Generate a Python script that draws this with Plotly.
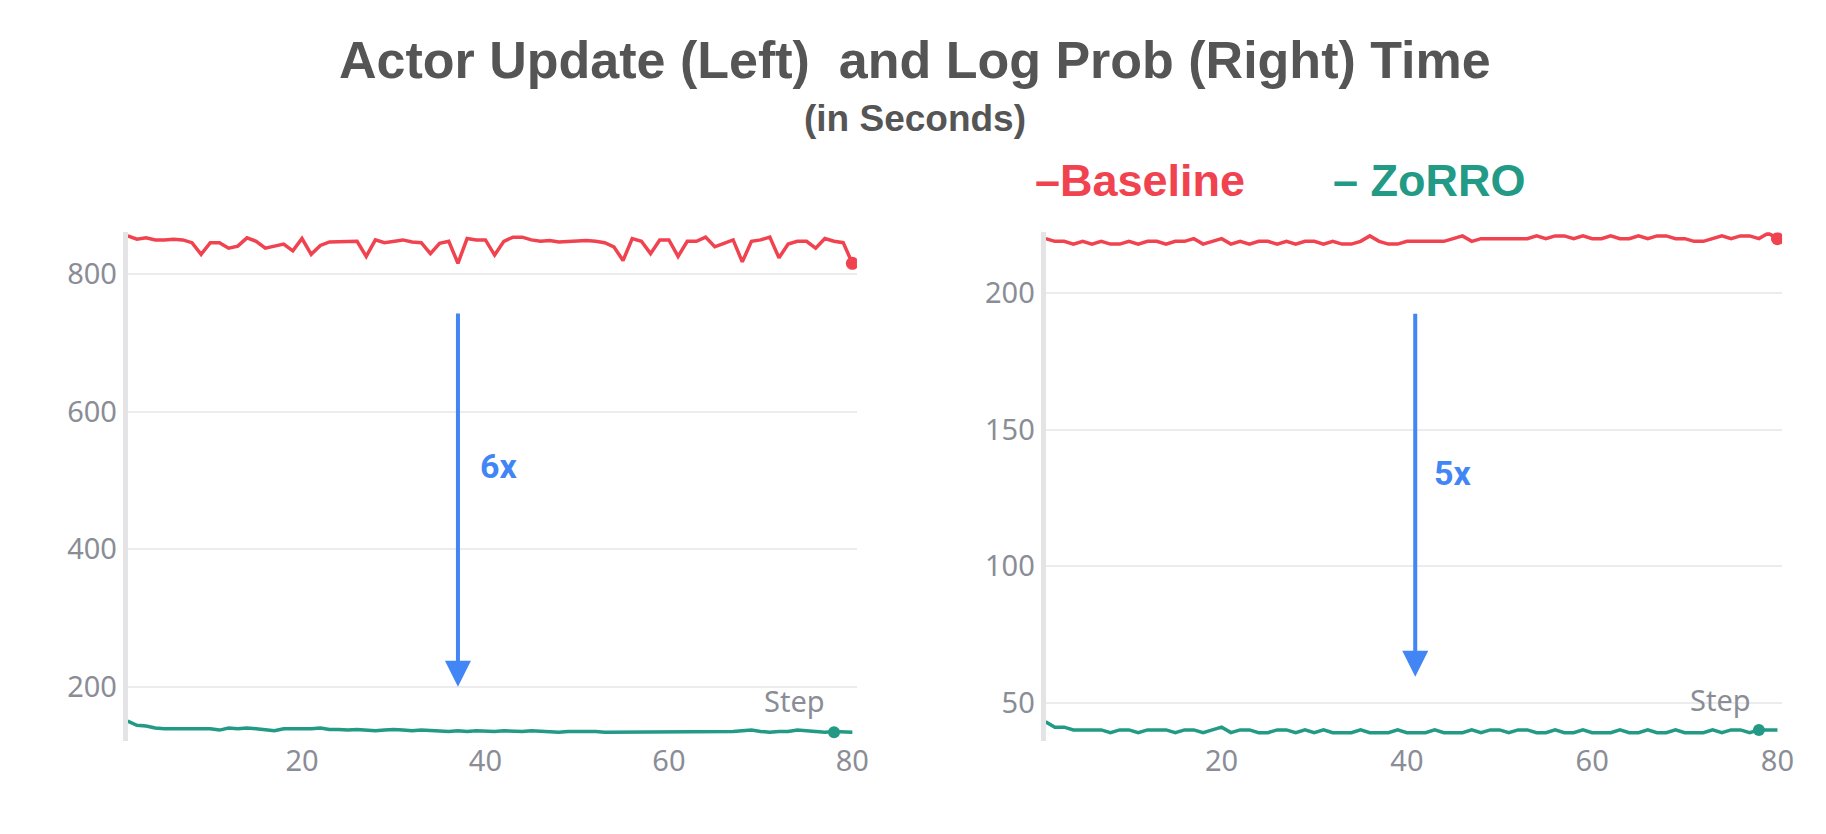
import plotly.graph_objects as go

steps = list(range(1, 81))
left_base = [856,851,853,850,850,851,850,846,829,846,846,838,841,853,848,838,841,844,834,852,829,842,847,847,847,848,826,850,846,848,850,847,846,830,845,848,816,852,850,850,828,848,854,854,850,848,849,847,848,848,849,848,846,840,820,852,848,830,850,850,826,848,848,854,840,845,850,818,848,850,854,824,844,848,848,838,852,848,846,816]
left_zorro = [150,144,143,140,139,139,138,139,138,139,137,140,139,140,139,137,136,139,139,138,139,140,138,138,137,138,137,136,137,138,137,136,137,136,136,135,136,135,136,135,135,136,135,135,136,135,135,134,135,135,136,135,134,134,135,134,134,134,134,135,134,134,134,135,134,134,135,136,137,135,134,135,135,137,136,135,134,135,134,134]
right_base = [220,219,219,218,219,218,219,218,218,219,218,219,219,218,219,219,220,218,219,220,218,219,218,219,219,218,219,218,219,219,218,219,218,218,219,221,219,218,218,219,219,219,219,219,220,221,219,220,220,220,220,220,220,221,220,221,221,220,221,220,220,221,220,220,221,220,221,221,220,220,219,219,220,221,220,221,221,220,222,220]
right_zorro = [43,41,41,40,40,40,40,39,40,40,39,40,40,40,39,40,40,39,40,41,39,40,40,39,39,40,40,39,40,39,40,39,39,39,40,39,39,39,40,39,39,39,40,39,39,39,40,39,40,40,39,40,40,39,39,40,39,39,40,39,39,39,40,39,39,40,39,39,40,39,39,39,40,39,40,40,39,40,40,40]

RED = "#f0424f"
TEAL = "#229a85"
BLUE = "#4285f4"
TICK = dict(family="Noto Sans", size=29, color="#8a8d96")

fig = go.Figure()
for xa, ya, b, z in [("x", "y", left_base, left_zorro), ("x2", "y2", right_base, right_zorro)]:
    fig.add_trace(go.Scatter(x=steps, y=b, mode="lines", line=dict(color=RED, width=3.5), xaxis=xa, yaxis=ya, showlegend=False))
    fig.add_trace(go.Scatter(x=steps, y=z, mode="lines", line=dict(color=TEAL, width=3.5), xaxis=xa, yaxis=ya, showlegend=False))
    fig.add_trace(go.Scatter(x=[steps[-1]], y=[b[-1]], mode="markers", marker=dict(color=RED, size=13), xaxis=xa, yaxis=ya, showlegend=False))
    fig.add_trace(go.Scatter(x=[78], y=[z[-1]], mode="markers", marker=dict(color=TEAL, size=12), xaxis=xa, yaxis=ya, showlegend=False))

ax = dict(showgrid=True, gridcolor="#ececec", gridwidth=2, zeroline=False, tickfont=TICK, ticks="")
fig.update_layout(
    width=1826, height=834, plot_bgcolor="white", paper_bgcolor="white",
    margin=dict(l=0, r=0, t=0, b=0),
    xaxis=dict(domain=[0.066, 0.468], range=[1, 80.5], tickvals=[20, 40, 60, 80], showgrid=False, zeroline=False, tickfont=TICK, showline=False),
    xaxis2=dict(domain=[0.572, 0.978], range=[1, 80.5], tickvals=[20, 40, 60, 80], showgrid=False, zeroline=False, tickfont=TICK, showline=False),
    yaxis=dict(domain=[0.121, 0.731], range=[121, 861], tickvals=[200, 400, 600, 800], showline=True, linecolor="#e4e4e6", linewidth=5, **ax),
    yaxis2=dict(domain=[0.121, 0.731], range=[35.9, 222.3], tickvals=[50, 100, 150, 200], showline=True, linecolor="#e4e4e6", linewidth=5, anchor="x2", **ax),
)

anns = [
    dict(text="<b>Actor Update (Left)  and Log Prob (Right) Time</b>", x=0.5, y=0.975, xref="paper", yref="paper", showarrow=False, font=dict(family="Liberation Sans", size=52, color="#555555")),
    dict(text="<b>(in Seconds)</b>", x=0.5, y=0.895, xref="paper", yref="paper", showarrow=False, font=dict(family="Liberation Sans", size=37, color="#555555")),
    dict(text="<b>–Baseline</b>", x=0.683, y=0.826, xref="paper", yref="paper", showarrow=False, font=dict(family="Liberation Sans", size=45, color=RED)),
    dict(text="<b>– ZoRRO</b>", x=0.838, y=0.826, xref="paper", yref="paper", showarrow=False, font=dict(family="Liberation Sans", size=45, color=TEAL)),
    dict(text="<b>6x</b>", x=41.5, y=521, xref="x", yref="y", showarrow=False, font=dict(family="Roboto", size=34, color=BLUE)),
    dict(text="<b>5x</b>", x=45, y=134, xref="x2", yref="y2", showarrow=False, font=dict(family="Roboto", size=34, color=BLUE)),
    dict(text="Step", x=73.7, y=180, xref="x", yref="y", showarrow=False, font=TICK),
    dict(text="Step", x=73.8, y=51, xref="x2", yref="y2", showarrow=False, font=TICK),
    dict(x=37, y=200, ax=37, ay=745, xref="x", yref="y", axref="x", ayref="y", text="", showarrow=True, arrowhead=2, arrowsize=1.3, arrowwidth=4, arrowcolor=BLUE),
    dict(x=40.9, y=59.5, ax=40.9, ay=193, xref="x2", yref="y2", axref="x2", ayref="y2", text="", showarrow=True, arrowhead=2, arrowsize=1.3, arrowwidth=4, arrowcolor=BLUE),
]
fig.update_layout(annotations=anns)
fig.write_html("out.html")
